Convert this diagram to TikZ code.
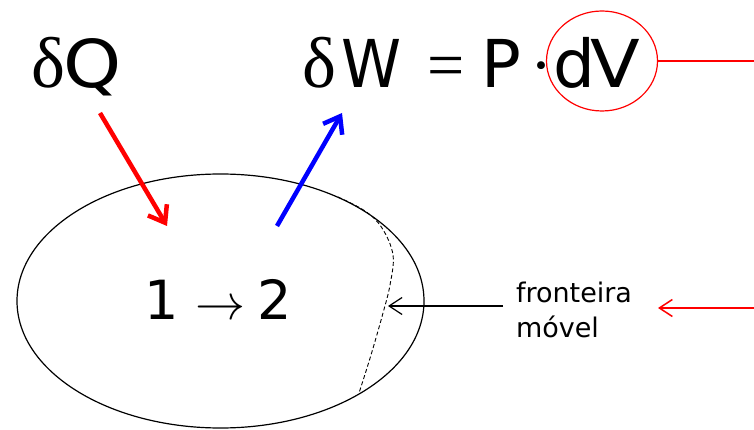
\documentclass[tikz,border=0pt]{standalone}
\usepackage{fontspec}
\setmainfont{DejaVu Sans}
\newfontfamily\symfont{Liberation Serif}
\usetikzlibrary{arrows.meta}
\begin{document}
\begin{tikzpicture}[x=1pt,y=-1pt,
  txt/.style={inner sep=0pt, outer sep=0pt},
  big/.style={font=\fontsize{66}{66}\selectfont},
  heatarrow/.style={draw=red, line width=4.5pt, -{Straight Barb[length=15pt,width=22pt]}},
  workarrow/.style={draw=blue, line width=4.5pt, -{Straight Barb[length=15pt,width=22pt]}},
  thinarrow/.style={line width=1.2pt, -{Straight Barb[length=13pt,width=17pt]}},
  redthin/.style={draw=red, line width=1.5pt},
  boundary/.style={line width=0.9pt, dash pattern=on 4pt off 2.5pt}
]
\useasboundingbox (0,0) rectangle (754,430);

% system
\draw[line width=1.2pt] (220.5,301) ellipse [x radius=203.5pt, y radius=127pt];

% texts
\node[txt, big, anchor=base west] (dQ) at (31,88)
  {\makebox[32pt][l]{\fontsize{72}{72}\symfont δ}\scalebox{1.12}[1]{Q}};
\node[txt, big, anchor=base west] (dW) at (302,88)
  {\makebox[39pt][l]{\fontsize{72}{72}\symfont δ}\makebox[86pt][l]{\scalebox{0.92}[1]{W}}\makebox[54pt][l]{\symfont =}\makebox[49pt][l]{P}\makebox[23pt][l]{\symfont ·}\makebox[37pt][l]{d}\scalebox{1.1}[1]{V}};
\node[txt, anchor=base west, font=\fontsize{54}{54}\selectfont] (state) at (144,319)
  {\makebox[51pt][l]{1}\makebox[62pt][l]{\resizebox{50pt}{!}{$\rightarrow$}}2};
\node[txt, anchor=north west, align=left, font=\fontsize{27}{35}\selectfont] (lbl) at (516,282)
  {fronteira\\móvel};

% red circle around dV
\draw[redthin, line width=1.2pt] (602,61) ellipse [x radius=55.5pt, y radius=50pt];
\coordinate (circR) at (657.5,61);
\coordinate (lineEnd) at (754,61);
\draw[redthin] (circR) -- (lineEnd);

% heat and work arrows
\coordinate (qs) at (100,113);
\coordinate (qe) at (167,226);
\draw[heatarrow] (qs) -- (qe);
\coordinate (ws) at (277,226);
\coordinate (we) at (342,113);
\draw[workarrow] (ws) -- (we);

% moving boundary
\draw[boundary] plot[smooth, tension=0.6] coordinates {(338,197) (365,211) (382,228) (393,255) (390,285) (383,313) (371,355) (359,393)};
\coordinate (bTip) at (388,306);
\coordinate (bStart) at (503,306);
\draw[thinarrow] (bStart) -- (bTip);

% red arrow from right
\coordinate (rs) at (754,308);
\coordinate (re) at (658,308);
\draw[redthin, -{Straight Barb[length=13pt,width=17pt]}] (rs) -- (re);
\end{tikzpicture}
\end{document}
